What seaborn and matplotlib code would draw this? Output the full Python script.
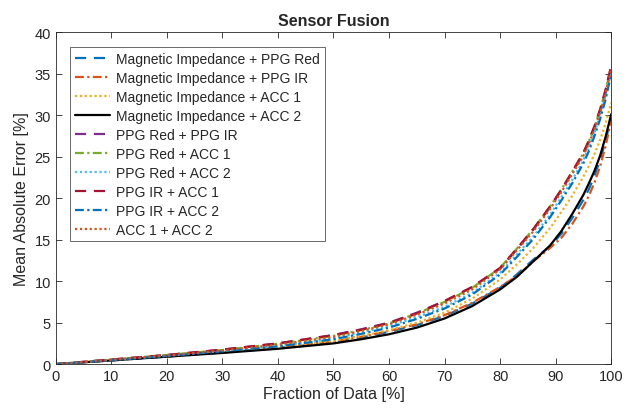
import numpy as np
import pandas as pd
import matplotlib
matplotlib.use('Agg')
import matplotlib.pyplot as plt
import seaborn as sns

# 데이터
frac = [0, 10, 20, 30, 40, 50, 55, 60, 65, 70, 75, 80, 83, 86, 89, 91, 93, 95, 96, 97, 98, 99, 100]

mag_ppgred = [0, 0.45, 0.9, 1.4, 1.95, 2.6, 3.2, 3.9, 4.7, 5.8, 7.3, 9.2, 10.8, 12.6, 14.2, 15.7, 17.6, 19.8, 21.1, 22.7, 24.6, 26.9, 29.8]
mag_ppgir = [0, 0.45, 0.95, 1.45, 2.0, 2.7, 3.3, 4.0, 4.8, 5.9, 7.4, 9.3, 10.6, 12.4, 14.0, 15.2, 16.9, 19.0, 20.3, 21.9, 23.8, 26.3, 29.3]
mag_acc1 = [0, 0.5, 1.0, 1.5, 2.1, 2.8, 3.4, 4.1, 5.0, 6.2, 7.9, 10.2, 12.0, 14.0, 16.4, 18.3, 20.3, 22.6, 23.9, 25.3, 27.0, 29.0, 31.5]
mag_acc2 = [0, 0.45, 0.9, 1.35, 1.85, 2.5, 3.0, 3.6, 4.4, 5.5, 7.0, 9.0, 10.5, 12.4, 14.3, 16.0, 18.1, 20.4, 21.8, 23.3, 25.1, 27.4, 30.1]
ppgred_ppgir = [0, 0.55, 1.1, 1.75, 2.5, 3.5, 4.2, 5.0, 6.2, 7.6, 9.3, 11.5, 13.8, 16.2, 18.9, 20.9, 23.1, 25.3, 26.8, 28.5, 30.4, 32.6, 35.2]
ppgred_acc1 = [0, 0.55, 1.1, 1.7, 2.45, 3.4, 4.1, 4.9, 6.1, 7.5, 9.2, 11.6, 13.9, 16.3, 19.0, 21.0, 23.2, 25.4, 26.9, 28.6, 30.6, 33.0, 35.7]
ppgred_acc2 = [0, 0.5, 1.0, 1.6, 2.2, 3.1, 3.8, 4.6, 5.65, 6.9, 8.6, 11.0, 13.2, 15.4, 18.0, 20.1, 22.2, 24.6, 26.1, 27.9, 29.9, 32.3, 35.2]
ppgir_acc1 = [0, 0.55, 1.1, 1.75, 2.5, 3.5, 4.15, 4.95, 6.1, 7.6, 9.3, 11.6, 13.9, 16.3, 19.0, 21.0, 23.2, 25.5, 27.0, 28.7, 30.7, 33.1, 36.0]
ppgir_acc2 = [0, 0.5, 1.0, 1.55, 2.15, 3.0, 3.65, 4.4, 5.45, 6.7, 8.4, 10.8, 12.9, 15.1, 17.7, 19.7, 21.8, 24.2, 25.7, 27.5, 29.5, 31.9, 35.0]
acc1_acc2 = [0, 0.55, 1.05, 1.65, 2.35, 3.3, 4.0, 4.8, 5.95, 7.3, 9.0, 11.4, 13.7, 16.0, 18.7, 20.7, 22.9, 25.1, 26.6, 28.3, 30.3, 32.7, 35.5]

labels = ['Magnetic Impedance + PPG Red', 'Magnetic Impedance + PPG IR',
          'Magnetic Impedance + ACC 1', 'Magnetic Impedance + ACC 2',
          'PPG Red + PPG IR', 'PPG Red + ACC 1', 'PPG Red + ACC 2',
          'PPG IR + ACC 1', 'PPG IR + ACC 2', 'ACC 1 + ACC 2']
series = [mag_ppgred, mag_ppgir, mag_acc1, mag_acc2, ppgred_ppgir,
          ppgred_acc1, ppgred_acc2, ppgir_acc1, ppgir_acc2, acc1_acc2]

# MATLAB 기본 색상
colors = ['#0072BD', '#D95319', '#EDB120', '#000000', '#7E2F8E',
          '#77AC30', '#4DBEEE', '#A2142F', '#0072BD', '#D95319']
styles = [(0, (5, 3.5)), (0, (4, 1.5, 1, 1.5)), (0, (1, 1.2)), '-',
          (0, (5, 3.5)), (0, (4, 1.5, 1, 1.5)), (0, (1, 1.2)),
          (0, (5, 3.5)), (0, (4, 1.5, 1, 1.5)), (0, (1, 1.2))]

sns.set_style("ticks")
plt.rcParams['font.family'] = ['Liberation Sans', 'DejaVu Sans']

fig = plt.figure(figsize=(6.34, 4.14), dpi=100)
ax = fig.add_axes([0.088, 0.118, 0.876, 0.802])

for lab, ys, c, ls in zip(labels, series, colors, styles):
    df = pd.DataFrame({'x': frac, 'y': ys})
    sns.lineplot(data=df, x='x', y='y', ax=ax, color=c, linestyle=ls,
                 linewidth=1.6, label=lab)

ax.set_xlim(0, 100)
ax.set_ylim(0, 40)
ax.set_xticks(range(0, 101, 10))
ax.set_yticks(range(0, 41, 5))
ax.tick_params(direction='in', top=True, right=True, length=4,
               labelsize=10.5, colors='#262626', width=0.6)
for sp in ax.spines.values():
    sp.set_visible(True)
    sp.set_color('#262626')
    sp.set_linewidth(0.6)
ax.set_xlabel('Fraction of Data [%]', fontsize=11.5, color='#262626', labelpad=2)
ax.set_ylabel('Mean Absolute Error [%]', fontsize=11.5, color='#262626', labelpad=4)
ax.set_title('Sensor Fusion', fontsize=11.5, fontweight='bold', pad=5)

leg = ax.legend(loc='upper left', fontsize=10, frameon=True, fancybox=False,
                handlelength=2.5, handletextpad=0.45, borderpad=0.35,
                labelspacing=0.36, borderaxespad=1.05)
leg.get_frame().set_edgecolor('#262626')
leg.get_frame().set_linewidth(0.6)

plt.savefig('out.png', dpi=100)
